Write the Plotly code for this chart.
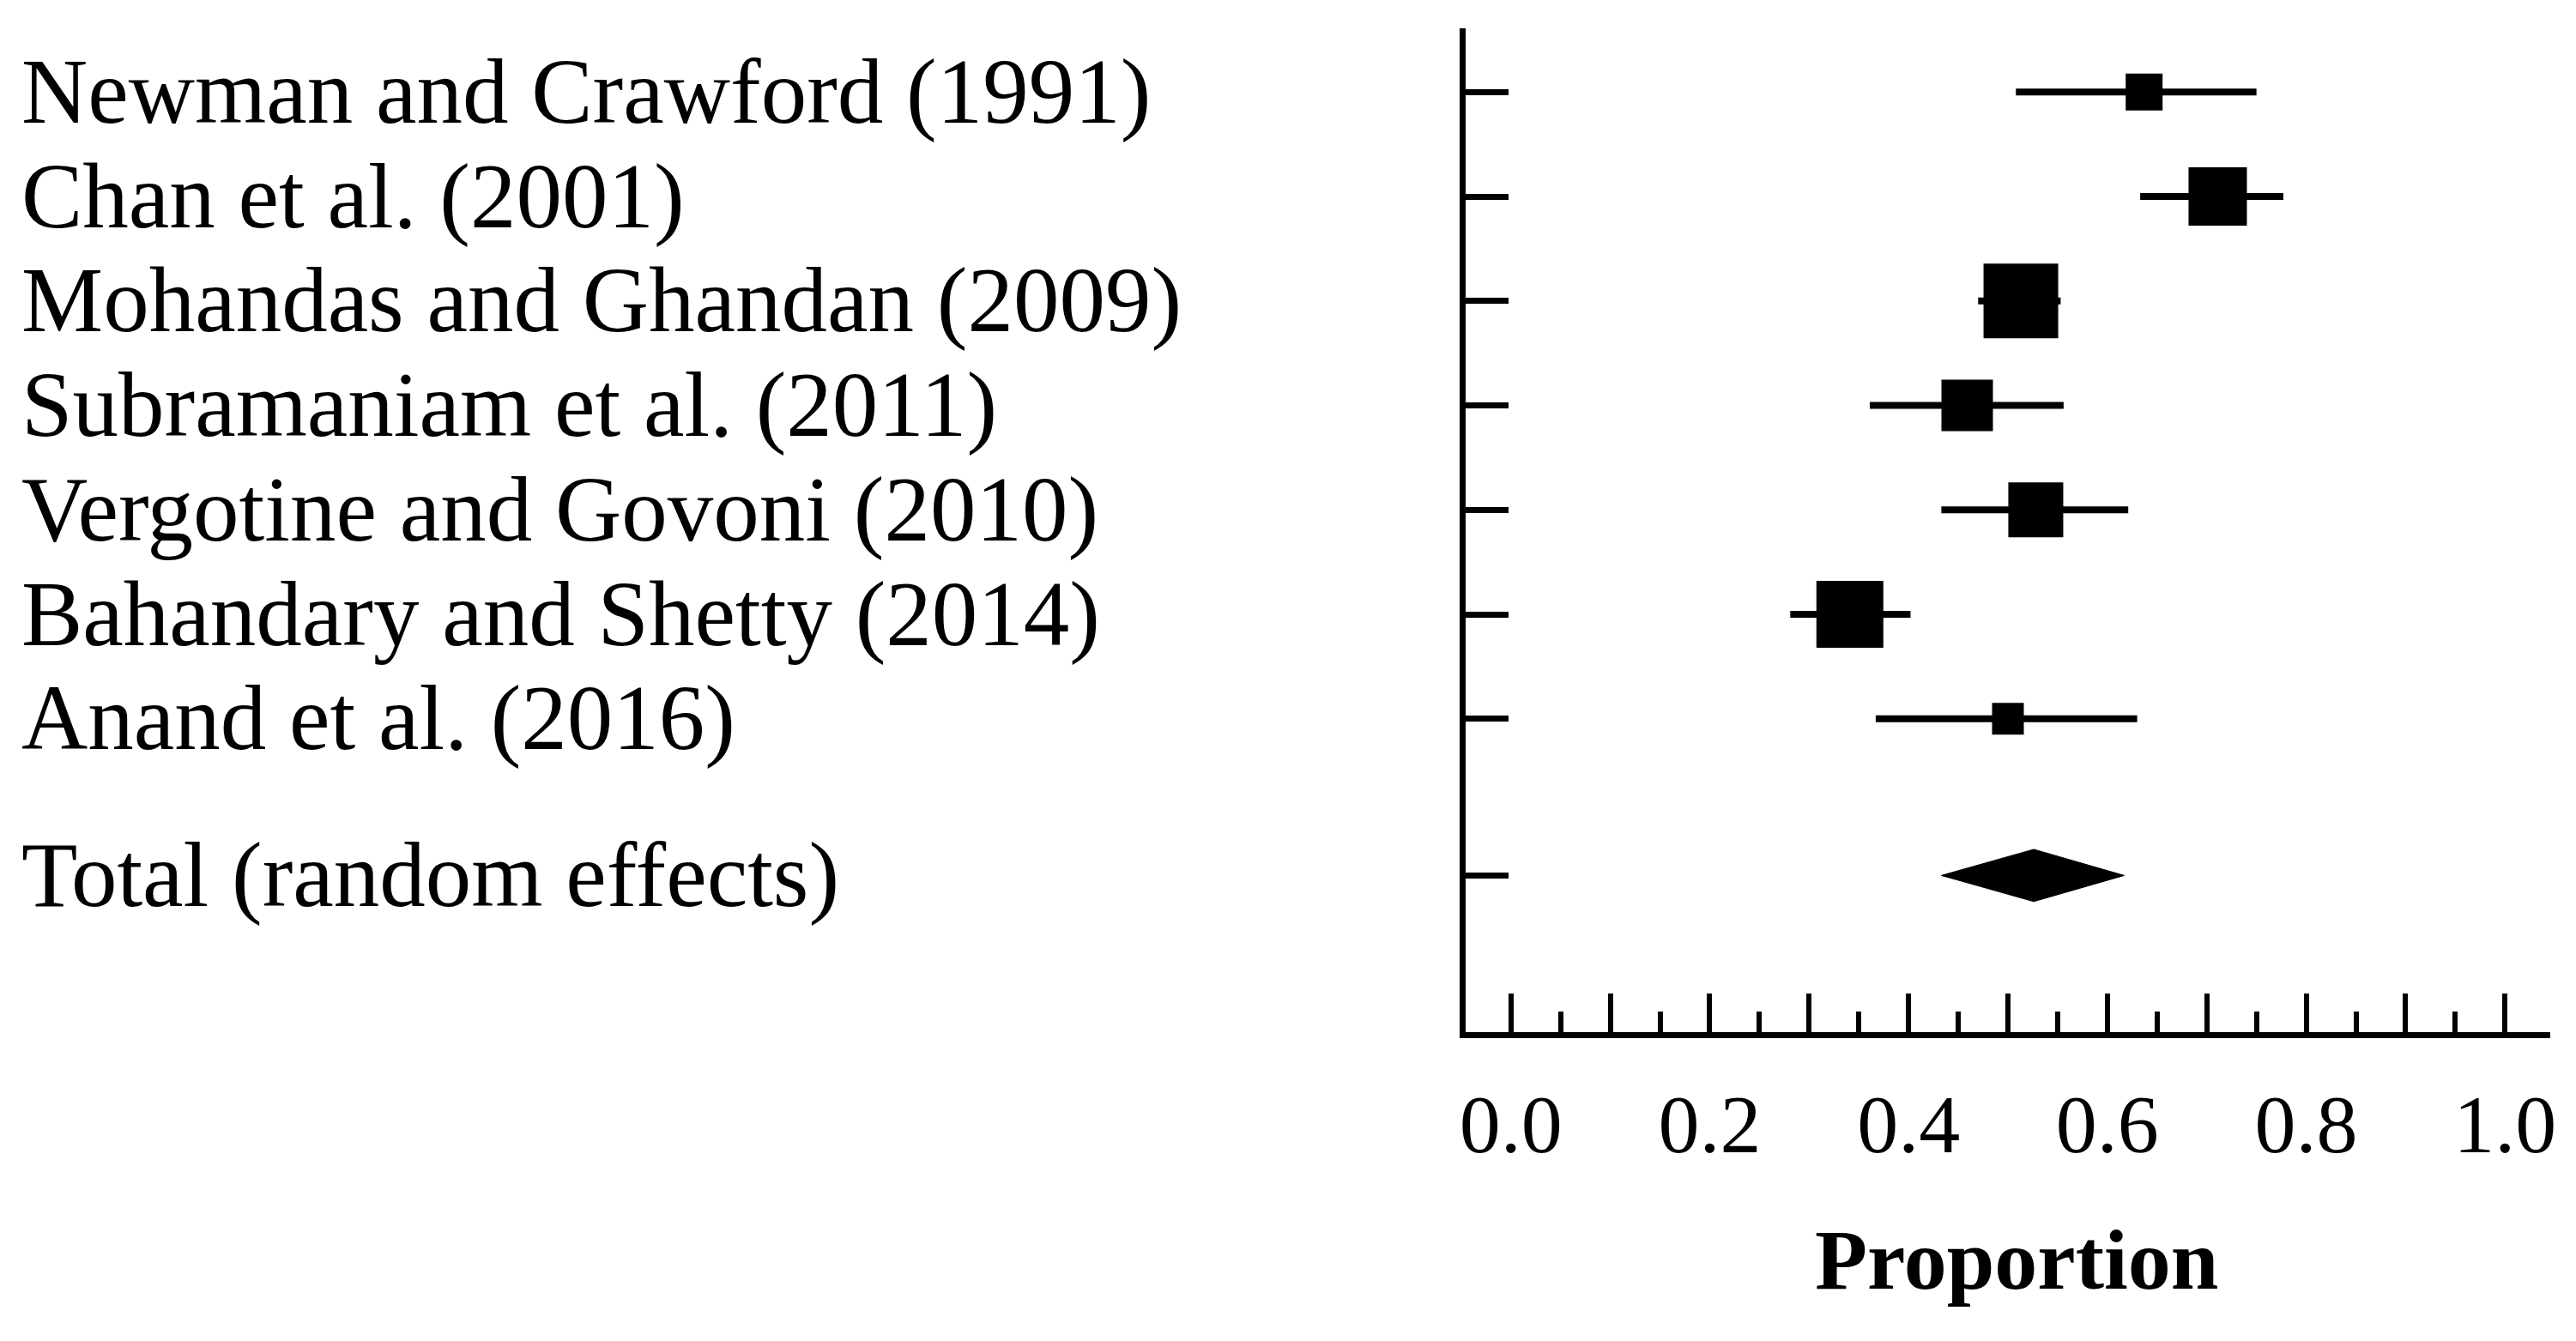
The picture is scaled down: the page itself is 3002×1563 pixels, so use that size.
import plotly.graph_objects as go

studies = ["Newman and Crawford (1991)", "Chan et al. (2001)", "Mohandas and Ghandan (2009)",
           "Subramaniam et al. (2011)", "Vergotine and Govoni (2010)", "Bahandary and Shetty (2014)",
           "Anand et al. (2016)"]
est = [0.637, 0.711, 0.513, 0.459, 0.528, 0.341, 0.500]
lo = [0.508, 0.633, 0.470, 0.361, 0.433, 0.281, 0.367]
hi = [0.750, 0.777, 0.553, 0.556, 0.621, 0.402, 0.630]
weights_px = [43, 68, 87, 60, 64, 78, 37]

total_label = "Total (random effects)"
total_est = 0.526
total_lo = 0.433
total_hi = 0.617

x_tick_vals = [0.0, 0.1, 0.2, 0.3, 0.4, 0.5, 0.6, 0.7, 0.8, 0.9, 1.0]
x_tick_text = ["0.0", "", "0.2", "", "0.4", "", "0.6", "", "0.8", "", "1.0"]
x_minor_vals = [0.05, 0.15, 0.25, 0.35, 0.45, 0.55, 0.65, 0.75, 0.85, 0.95]

rows = list(range(len(studies)))
total_row = 7.5
diamond_half = 0.25

W, H = 3002, 1563
ML, MR, MT, MB = 1700, 38, 25, 368
FONT = "Liberation Serif"

fig = go.Figure()
fig.add_trace(go.Scatter(
    x=est, y=rows, mode="markers",
    marker=dict(symbol="square", size=weights_px, color="black", opacity=1, line=dict(width=0)),
    error_x=dict(type="data", symmetric=False,
                 array=[h - e for h, e in zip(hi, est)],
                 arrayminus=[e - l for e, l in zip(est, lo)],
                 thickness=8, width=0, color="black"),
    hoverinfo="skip", showlegend=False))

fig.add_trace(go.Scatter(
    x=[total_lo, total_est, total_hi, total_est, total_lo],
    y=[total_row, total_row - diamond_half, total_row, total_row + diamond_half, total_row],
    mode="lines", fill="toself", fillcolor="black", line=dict(color="black", width=1),
    hoverinfo="skip", showlegend=False))

plot_w = W - ML - MR
label_x = (15 - ML) / plot_w
for r, name in zip(rows + [total_row], studies + [total_label]):
    fig.add_annotation(x=label_x, xref="paper", y=r, yref="y", text=name,
                       showarrow=False, xanchor="left", yanchor="middle",
                       font=dict(family=FONT, size=107, color="black"))

fig.add_annotation(x=0.508, xref="paper", y=-0.227, yref="paper", text="<b>Proportion</b>",
                   showarrow=False, xanchor="center", yanchor="middle",
                   font=dict(family=FONT, size=100, color="black"))

fig.update_xaxes(range=[-0.0455, 1.0455], showgrid=False, zeroline=False,
                 showline=True, linecolor="black", linewidth=7,
                 tickmode="array", tickvals=x_tick_vals, ticktext=x_tick_text,
                 ticks="inside", ticklen=45, tickwidth=6, tickcolor="black",
                 ticklabelstandoff=18,
                 tickfont=dict(family=FONT, size=96, color="black"),
                 minor=dict(tickmode="array", tickvals=x_minor_vals, ticks="inside",
                            ticklen=24, tickwidth=6, tickcolor="black", showgrid=False))
fig.update_yaxes(range=[9.0, -0.61], showgrid=False, zeroline=False,
                 showline=True, linecolor="black", linewidth=7,
                 tickmode="array", tickvals=rows + [total_row],
                 ticks="inside", ticklen=50, tickwidth=7, tickcolor="black",
                 showticklabels=False)

fig.update_layout(width=W, height=H, margin=dict(l=ML, r=MR, t=MT, b=MB),
                  plot_bgcolor="white", paper_bgcolor="white", showlegend=False)

fig.write_html("out.html")
